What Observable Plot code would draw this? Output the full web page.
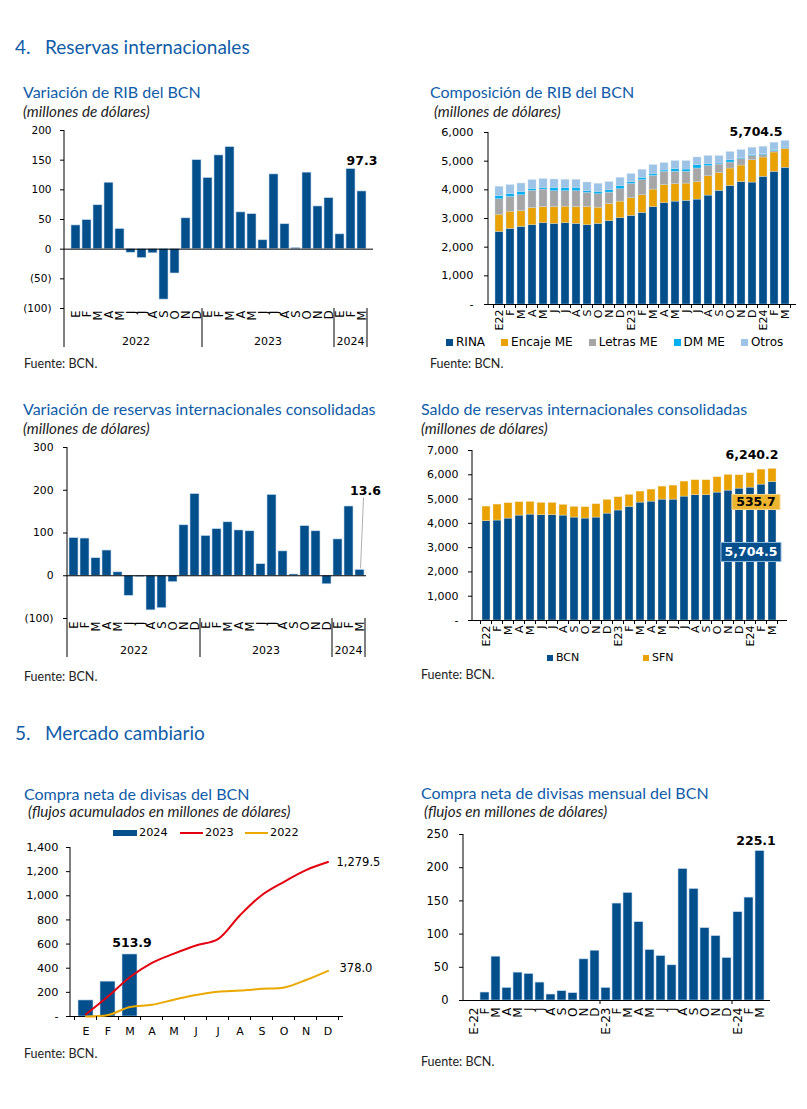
<!DOCTYPE html>
<html><head><meta charset="utf-8">
<script src="https://cdn.jsdelivr.net/npm/d3@7"></script>
<script src="https://cdn.jsdelivr.net/npm/@observablehq/plot@0.6"></script>
<style>
html,body{margin:0;padding:0;background:#fff}
body{width:807px;height:1109px;position:relative;overflow:hidden;font-family:Lato,"Noto Sans",sans-serif}
.abs{position:absolute;white-space:nowrap}
.plotbox{position:absolute}
.lg{position:absolute;display:flex;align-items:center;font-family:"DejaVu Sans",Verdana,sans-serif;color:#000;white-space:nowrap}
.sw{display:inline-block}
</style></head><body>
<script>
// ---------- DATA ----------
const periods = ["2022-01","2022-02","2022-03","2022-04","2022-05","2022-06","2022-07","2022-08","2022-09","2022-10","2022-11","2022-12",
  "2023-01","2023-02","2023-03","2023-04","2023-05","2023-06","2023-07","2023-08","2023-09","2023-10","2023-11","2023-12",
  "2024-01","2024-02","2024-03"];
const years = ["2022","2023","2024"];
const labelsLetter = ["E","F","M","A","M","J","J","A","S","O","N","D","E","F","M","A","M","J","J","A","S","O","N","D","E","F","M"];
const labelsYear = ["E22","F","M","A","M","J","J","A","S","O","N","D","E23","F","M","A","M","J","J","A","S","O","N","D","E24","F","M"];
const labelsDash = ["E-22","F","M","A","M","J","J","A","S","O","N","D","E-23","F","M","A","M","J","J","A","S","O","N","D","E-24","F","M"];
const monthKeys = ["01","02","03","04","05","06","07","08","09","10","11","12"];
const monthLabels = ["E","F","M","A","M","J","J","A","S","O","N","D"];

// Variación de RIB del BCN
const ribVar = [40,49,74,112,34,-6,-15,-7,-85,-41,52,150,120,158,172,62,59,15,126,42,2,129,72,86,25,135,97.3];

// Composición de RIB del BCN
const compNames = ["RINA","Encaje ME","Letras ME","DM ME","Otros"];
const compColors = ["#024f8c","#e9a202","#a6a6a6","#00b0f0","#9dc3e6"];
const rina   = [2529,2634,2704,2762,2832,2809,2832,2809,2762,2809,2902,3007,3089,3193,3392,3531,3590,3613,3660,3800,3963,4126,4266,4254,4452,4627,4767];
const encaje = [606,606,559,606,571,594,583,594,641,571,606,583,617,618,617,641,617,606,617,676,629,618,582,781,676,676,653];
const letras = [536,513,548,595,606,548,536,548,490,466,396,431,501,525,478,455,420,408,467,349,291,209,222,140,82,47,35];
const dmMe   = [117,93,105,70,59,117,117,117,58,82,82,105,59,81,70,47,93,82,116,70,35,82,47,35,35,35,23];
const otros  = [315,315,303,303,303,291,279,279,303,279,280,291,279,280,303,256,280,291,268,280,257,280,268,256,256,256,226.5];

// Variación de reservas internacionales consolidadas
const consVar = [88,87,41,59,8,-47,-3,-81,-76,-15,118,191,93,109,125,106,104,27,189,57,3,116,104,-20,85,162,13.6];

// Saldo de reservas internacionales consolidadas
const saldoNames = ["BCN","SFN"];
const saldoColors = ["#024f8c","#e9a202"];
const bcn = [4088,4117,4198,4321,4362,4335,4335,4321,4239,4198,4239,4403,4530,4678,4856,4897,4979,4979,5103,5158,5158,5268,5350,5432,5473,5597,5704.5];
const sfn = [603,657,631,549,521,507,507,439,439,466,548,563,545,494,453,494,535,576,617,617,617,630,644,548,590,617,535.7];

// Compra neta de divisas del BCN (acumulado)
const cum2024 = [133,288.8,513.9];
const cum2023 = [19,165,327,445,521,588,641,839,1007,1116,1213,1279.5];
const cum2022 = [0,12,78,97,139,179,206,215,229,240,302,378.0];

// Compra neta de divisas mensual del BCN
const monthly = [0,12,66,19,42,40,27,9,14,11,62,75,19,146,162,118,76,67,53,198,168,109,97,64,133,155,225.1];

// ---------- HELPERS ----------
const BLUE = "#024f8c", EDGE = "#c6daee", TITLE = "#0f5ca8";
const TICKFONT = "DejaVu Sans, Verdana, sans-serif";
const fmtC = d3.format(",");
const fmtParen = d => d < 0 ? `(${Math.abs(d)})` : fmtC(d);
const fmtDash = d => d === 0 ? "-" : fmtC(d);
const fmt1 = d3.format(",.1f");
const mapLabels = (keys, labels) => new Map(keys.map((k, i) => [k, labels[i]]));
const groups = years.map(yr => ({name: yr, first: periods.find(p => p.startsWith(yr))}));

function decor({axisExtend = 0, groups = null, groupSepLen = 0, groupLabelDy = 0, bandTicks = null, tickLen = 4, leader = null, boxes = []} = {}) {
  return (index, scales, values, dims) => {
    const {x, y} = scales;
    const {height, marginTop, marginBottom, marginLeft} = dims;
    const bottom = height - marginBottom;
    const step = x.step(), bw = x.bandwidth();
    const dom = x.domain();
    const edge = k => x(k) - (step - bw) / 2;
    const rightEdge = edge(dom[dom.length - 1]) + step;
    const g = d3.create("svg:g");
    g.append("line").attr("x1", marginLeft).attr("x2", marginLeft)
      .attr("y1", marginTop).attr("y2", bottom + axisExtend).attr("stroke", "#000");
    if (groups) {
      groups.forEach((gr, i) => {
        const x0 = edge(gr.first);
        const x1 = i < groups.length - 1 ? edge(groups[i + 1].first) : rightEdge;
        g.append("line").attr("x1", x1).attr("x2", x1).attr("y1", bottom).attr("y2", bottom + groupSepLen).attr("stroke", "#000");
        g.append("text").attr("x", (x0 + x1) / 2).attr("y", bottom + groupLabelDy).attr("dy", "0.36em")
          .attr("text-anchor", "middle").attr("font-size", "11px").attr("fill", "#000").text(gr.name);
      });
    }
    if (bandTicks) {
      const xs = bandTicks === "all" ? [...dom.map(edge), rightEdge] : bandTicks.map(edge);
      xs.forEach(px => g.append("line").attr("x1", px).attr("x2", px).attr("y1", bottom).attr("y2", bottom + tickLen).attr("stroke", "#000"));
    }
    if (leader) {
      const cx = x(leader.key) + bw / 2, yy = y(leader.value);
      g.append("line").attr("x1", cx + 1).attr("y1", yy - 1).attr("x2", cx + 4).attr("y2", yy - leader.len)
        .attr("stroke", "#9a9a9a").attr("stroke-width", 0.8);
    }
    boxes.forEach(b => {
      const cx = x(b.key) + bw / 2 + b.dx, cy = y(b.value) + b.dy;
      g.append("rect").attr("x", cx - b.w / 2).attr("y", cy - b.h / 2).attr("width", b.w).attr("height", b.h)
        .attr("fill", b.fill).attr("stroke", b.stroke).attr("stroke-width", 1);
      g.append("text").attr("x", cx).attr("y", cy).attr("dy", "0.36em").attr("text-anchor", "middle")
        .attr("font-weight", "bold").attr("font-size", b.size + "px").attr("fill", b.color).text(b.text);
    });
    return g.node();
  };
}

function place(el, left, top, w) {
  const d = document.createElement("div");
  d.className = "plotbox";
  d.style.left = left + "px"; d.style.top = top + "px"; if (w) d.style.width = w + "px";
  d.appendChild(el);
  document.body.appendChild(d);
}
function txt(content, x, yc, size, opts = {}) {
  const d = document.createElement("div");
  d.className = "abs";
  d.textContent = content;
  Object.assign(d.style, {left: x + "px", top: (yc - size * 0.6) + "px", fontSize: size + "px", lineHeight: (size * 1.2) + "px",
    color: opts.color || "#222", fontStyle: opts.italic ? "italic" : "normal", fontFamily: opts.family || "Lato, 'Noto Sans', sans-serif",
    fontWeight: opts.weight || "normal"});
  document.body.appendChild(d);
  return d;
}
const styleFor = size => ({fontFamily: TICKFONT, fontSize: size + "px", color: "#000", background: "transparent", overflow: "visible"});

// ---------- CHART 1 ----------
{
  const data = periods.map((p, i) => ({period: p, value: ribVar[i]}));
  const lab = mapLabels(periods, labelsLetter);
  const last = data[data.length - 1];
  const p = Plot.plot({
    width: 400, height: 235, marginLeft: 64, marginRight: 27, marginTop: 10, marginBottom: 47,
    style: styleFor(10.5),
    x: {type: "band", domain: periods, paddingInner: 0.22, paddingOuter: 0.11},
    y: {domain: [-100, 200]},
    marks: [
      Plot.barY(data, {x: "period", y: "value", fill: BLUE, stroke: EDGE, strokeWidth: 0.6}),
      Plot.ruleY([0], {stroke: "#000"}),
      Plot.axisY({ticks: [-100, -50, 0, 50, 100, 150, 200], tickFormat: fmtParen, tickSize: 4, tickPadding: 9, label: null}),
      Plot.axisX({tickRotate: -90, tickSize: 0, tickPadding: 2, fontSize: 11.5, tickFormat: d => lab.get(d), label: null}),
      decor({axisExtend: 39, groups, groupSepLen: 39, groupLabelDy: 33}),
      Plot.text([last], {x: "period", y: "value", text: d => fmt1(d.value), dy: -30, fontWeight: "bold", fontSize: 12.5})
    ]
  });
  place(p, 0, 120, 400);
}

// ---------- CHART 2 ----------
{
  const series = [rina, encaje, letras, dmMe, otros];
  const data = [];
  compNames.forEach((name, s) => periods.forEach((p, i) => data.push({period: p, series: name, value: series[s][i]})));
  const lastKey = periods[periods.length - 1];
  const total = d3.sum(series, s => s[s.length - 1]);
  const lab = mapLabels(periods, labelsYear);
  const p = Plot.plot({
    width: 397, height: 220, marginLeft: 78, marginRight: 11, marginTop: 12, marginBottom: 36,
    style: styleFor(11.3),
    x: {type: "band", domain: periods, paddingInner: 0.26, paddingOuter: 0.13},
    y: {domain: [0, 6000]},
    color: {domain: compNames, range: compColors},
    marks: [
      Plot.barY(data, {x: "period", y: "value", fill: "series", stroke: EDGE, strokeWidth: 0.4}),
      Plot.ruleY([0], {stroke: "#000"}),
      Plot.axisY({ticks: [0, 1000, 2000, 3000, 4000, 5000, 6000], tickFormat: fmtDash, tickSize: 4, tickPadding: 11, label: null}),
      Plot.axisX({tickRotate: -90, tickSize: 0, tickPadding: 5, fontSize: 11, tickFormat: d => lab.get(d), label: null}),
      decor({bandTicks: "all", tickLen: 4}),
      Plot.text([{period: lastKey, value: total}], {x: "period", y: "value", text: d => fmt1(d.value), textAnchor: "end", dx: -3, dy: -9, fontWeight: "bold", fontSize: 12.5})
    ]
  });
  place(p, 410, 120, 397);
  const lg = document.createElement("div");
  lg.className = "lg";
  Object.assign(lg.style, {left: "446px", top: "335px", fontSize: "12px", gap: "16px"});
  compNames.forEach((n, i) => {
    const it = document.createElement("span");
    it.style.display = "flex"; it.style.alignItems = "center"; it.style.gap = "3px";
    it.innerHTML = `<span class="sw" style="width:7px;height:7px;background:${compColors[i]}"></span><span>${n}</span>`;
    lg.appendChild(it);
  });
  document.body.appendChild(lg);
}

// ---------- CHART 3 ----------
{
  const data = periods.map((p, i) => ({period: p, value: consVar[i]}));
  const lab = mapLabels(periods, labelsLetter);
  const last = data[data.length - 1];
  const p = Plot.plot({
    width: 400, height: 225, marginLeft: 67, marginRight: 34, marginTop: 10, marginBottom: 44,
    style: styleFor(10.8),
    x: {type: "band", domain: periods, paddingInner: 0.2, paddingOuter: 0.1},
    y: {domain: [-100, 300]},
    marks: [
      Plot.barY(data, {x: "period", y: "value", fill: BLUE, stroke: EDGE, strokeWidth: 0.6}),
      Plot.ruleY([0], {stroke: "#000"}),
      Plot.axisY({ticks: [-100, 0, 100, 200, 300], tickFormat: fmtParen, tickSize: 4, tickPadding: 10, label: null}),
      Plot.axisX({tickRotate: -90, tickSize: 0, tickPadding: 3, fontSize: 11.5, tickFormat: d => lab.get(d), label: null}),
      decor({axisExtend: 39, groups, groupSepLen: 39, groupLabelDy: 32, leader: {key: last.period, value: last.value, len: 72}}),
      Plot.text([last], {x: "period", y: "value", text: d => fmt1(d.value), dx: 5.5, dy: -79, fontWeight: "bold", fontSize: 12.5})
    ]
  });
  place(p, 0, 437, 400);
}

// ---------- CHART 4 ----------
{
  const data = [];
  [bcn, sfn].forEach((arr, s) => periods.forEach((p, i) => data.push({period: p, series: saldoNames[s], value: arr[i]})));
  const n = periods.length - 1, lastKey = periods[n];
  const total = bcn[n] + sfn[n];
  const lab = mapLabels(periods, labelsYear);
  const p = Plot.plot({
    width: 397, height: 210, marginLeft: 62, marginRight: 20, marginTop: 10, marginBottom: 30,
    style: styleFor(11),
    x: {type: "band", domain: periods, paddingInner: 0.23, paddingOuter: 0.115},
    y: {domain: [0, 7000]},
    color: {domain: saldoNames, range: saldoColors},
    marks: [
      Plot.barY(data, {x: "period", y: "value", fill: "series", stroke: "#f3e7c8", strokeWidth: 0.4}),
      Plot.ruleY([0], {stroke: "#000"}),
      Plot.axisY({ticks: [0, 1000, 2000, 3000, 4000, 5000, 6000, 7000], tickFormat: fmtDash, tickSize: 4, tickPadding: 10, label: null}),
      Plot.axisX({tickRotate: -90, tickSize: 0, tickPadding: 5, fontSize: 11, tickFormat: d => lab.get(d), label: null}),
      decor({bandTicks: "all", tickLen: 4, boxes: [
        {key: lastKey, value: bcn[n], text: fmt1(sfn[n]), dx: -16, dy: 20.5, w: 48, h: 15, fill: "#edb42f", stroke: "#f6d58a", color: "#000", size: 12.5},
        {key: lastKey, value: bcn[n], text: fmt1(bcn[n]), dx: -21, dy: 70.5, w: 60, h: 19, fill: BLUE, stroke: "#8fb6dc", color: "#fff", size: 12.5}
      ]}),
      Plot.text([{period: lastKey, value: total}], {x: "period", y: "value", text: d => fmt1(d.value), textAnchor: "end", dx: 6, dy: -13.5, fontWeight: "bold", fontSize: 12.5})
    ]
  });
  place(p, 410, 440, 397);
  const lefts = [547, 643];
  saldoNames.forEach((nme, i) => {
    const lg = document.createElement("div");
    lg.className = "lg";
    Object.assign(lg.style, {left: lefts[i] + "px", top: "651px", fontSize: "11px", gap: "3px"});
    lg.innerHTML = `<span class="sw" style="width:6px;height:6px;background:${saldoColors[i]}"></span><span>${nme}</span>`;
    document.body.appendChild(lg);
  });
}

// ---------- CHART 5 ----------
{
  const bars = cum2024.map((v, i) => ({month: monthKeys[i], value: v}));
  const l23 = cum2023.map((v, i) => ({month: monthKeys[i], value: v}));
  const l22 = cum2022.map((v, i) => ({month: monthKeys[i], value: v}));
  const lab = mapLabels(monthKeys, monthLabels);
  const RED = "#e3000f", GOLD = "#eaa800";
  const p = Plot.plot({
    width: 400, height: 205, marginLeft: 70, marginRight: 57, marginTop: 7, marginBottom: 29,
    style: styleFor(11.3),
    x: {type: "band", domain: monthKeys, paddingInner: 0.3, paddingOuter: 0.15},
    y: {domain: [0, 1400]},
    marks: [
      Plot.barY(bars, {x: "month", y: "value", fill: BLUE, stroke: EDGE, strokeWidth: 0.6}),
      Plot.ruleY([0], {stroke: "#000"}),
      Plot.line(l22, {x: "month", y: "value", stroke: GOLD, strokeWidth: 2, curve: "catmull-rom"}),
      Plot.line(l23, {x: "month", y: "value", stroke: RED, strokeWidth: 2, curve: "catmull-rom"}),
      Plot.axisY({ticks: [0, 200, 400, 600, 800, 1000, 1200, 1400], tickFormat: fmtDash, tickSize: 4, tickPadding: 8, label: null}),
      Plot.axisX({tickSize: 0, tickPadding: 11, fontSize: 11, tickFormat: d => lab.get(d), label: null}),
      decor({bandTicks: "all", tickLen: 4}),
      Plot.text([l23[l23.length - 1]], {x: "month", y: "value", text: d => fmt1(d.value), textAnchor: "start", dx: 8.5, fontSize: 11.5}),
      Plot.text([l22[l22.length - 1]], {x: "month", y: "value", text: d => fmt1(d.value), textAnchor: "start", dx: 11.5, dy: -3, fontSize: 11.5}),
      Plot.text([bars[bars.length - 1]], {x: "month", y: "value", text: d => fmt1(d.value), dx: 2, dy: -11, fontWeight: "bold", fontSize: 12.5})
    ]
  });
  place(p, 0, 840, 400);
  const items = [
    {name: "2024", left: 113, sw: `<span class="sw" style="width:24px;height:6px;background:${BLUE}"></span>`},
    {name: "2023", left: 180, sw: `<span class="sw" style="width:23px;height:2px;background:${RED}"></span>`},
    {name: "2022", left: 245, sw: `<span class="sw" style="width:23px;height:2px;background:${GOLD}"></span>`}
  ];
  items.forEach(it => {
    const lg = document.createElement("div");
    lg.className = "lg";
    Object.assign(lg.style, {left: it.left + "px", top: "826px", fontSize: "11.3px", gap: "2px"});
    lg.innerHTML = it.sw + `<span>${it.name}</span>`;
    document.body.appendChild(lg);
  });
}

// ---------- CHART 6 ----------
{
  const data = periods.map((p, i) => ({period: p, value: monthly[i]}));
  const lab = mapLabels(periods, labelsDash);
  const last = data[data.length - 1];
  const p = Plot.plot({
    width: 397, height: 225, marginLeft: 53, marginRight: 37, marginTop: 9, marginBottom: 50,
    style: styleFor(11.5),
    x: {type: "band", domain: periods, paddingInner: 0.18, paddingOuter: 0.09},
    y: {domain: [0, 250]},
    marks: [
      Plot.barY(data, {x: "period", y: "value", fill: BLUE, stroke: EDGE, strokeWidth: 0.6}),
      Plot.ruleY([0], {stroke: "#000"}),
      Plot.axisY({ticks: [0, 50, 100, 150, 200, 250], tickSize: 4, tickPadding: 11, label: null}),
      Plot.axisX({tickRotate: -90, tickSize: 0, tickPadding: 7, fontSize: 12, tickFormat: d => lab.get(d), label: null}),
      decor({bandTicks: [groups[1].first, groups[2].first], tickLen: 4}),
      Plot.text([last], {x: "period", y: "value", text: d => fmt1(d.value), dx: -4, dy: -10.5, fontWeight: "bold", fontSize: 12.5})
    ]
  });
  place(p, 410, 825, 397);
}

// ---------- TEXTS ----------
function heading(num, text, yc) {
  txt(num, 15, yc, 19, {color: TITLE});
  txt(text, 45, yc, 19, {color: TITLE});
}
heading("4.", "Reservas internacionales", 47);
heading("5.", "Mercado cambiario", 733);

const SUB = 15.2;
txt("Variación de RIB del BCN", 23, 92, 16, {color: TITLE});
txt("(millones de dólares)", 23, 111, SUB, {italic: true});
txt("Fuente: BCN.", 24, 363, 12.5);

txt("Composición de RIB del BCN", 430, 92, 16, {color: TITLE});
txt("(millones de dólares)", 434, 111, SUB, {italic: true});
txt("Fuente: BCN.", 430, 363, 12.5);

txt("Variación de reservas internacionales consolidadas", 23, 409, 16, {color: TITLE});
txt("(millones de dólares)", 23, 428, SUB, {italic: true});
txt("Fuente: BCN.", 24, 676, 12.5);

txt("Saldo de reservas internacionales consolidadas", 421, 409, 16, {color: TITLE});
txt("(millones de dólares)", 421, 428, SUB, {italic: true});
txt("Fuente: BCN.", 421, 674, 12.5);

txt("Compra neta de divisas del BCN", 24, 794, 16, {color: TITLE});
txt("(flujos acumulados en millones de dólares)", 28, 811, SUB, {italic: true});
txt("Fuente: BCN.", 24, 1053, 12.5);

txt("Compra neta de divisas mensual del BCN", 421, 793, 16, {color: TITLE});
txt("(flujos en millones de dólares)", 424, 811, SUB, {italic: true});
txt("Fuente: BCN.", 421, 1061, 12.5);
</script>
</body></html>
